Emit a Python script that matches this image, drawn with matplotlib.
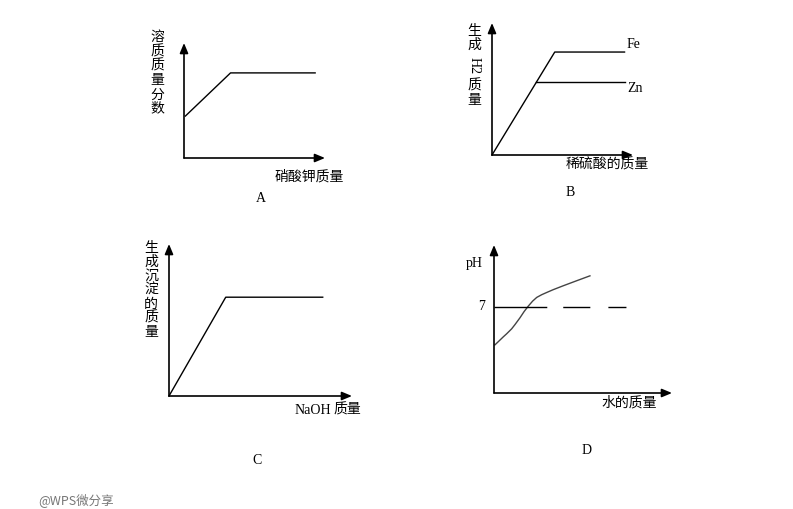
import matplotlib.pyplot as plt

plt.rcParams['font.family'] = ['Noto Sans CJK SC', 'DejaVu Sans']

W, H = 793, 509

# Panel A: solute mass fraction vs KNO3 mass
a_x = [0.1, 3.3, 9.3]
a_y = [3.65, 7.4, 7.4]

# Panel B: H2 mass vs dilute sulfuric acid mass
b_fe_x = [0.0, 4.45, 9.4]
b_fe_y = [0.0, 7.8, 7.8]
b_zn_x = [3.15, 9.4]
b_zn_y = [5.5, 5.5]

# Panel C: precipitate mass vs NaOH mass
c_x = [0.0, 3.1, 8.4]
c_y = [0.0, 6.5, 6.5]

# Panel D: pH vs water mass
d_x = [0.05, 0.24, 0.52, 0.71, 0.99, 1.18, 1.46, 1.69, 1.93, 2.17, 2.4, 2.68,
       2.96, 3.33, 3.9, 4.64, 5.39]
d_y = [3.9, 4.16, 4.55, 4.8, 5.2, 5.55, 6.1, 6.6, 7.05, 7.45, 7.75, 7.97,
       8.15, 8.38, 8.7, 9.1, 9.5]
d_ref = 7
d_ref_end = 7.4


def px(x, y):
    return x / W, 1 - y / H


def panel(x0, y0, x1, y1, ymax=10):
    # axes whose origin sits at (x0, y0) px and whose arrow tips reach (x1, y1) px
    ax = fig.add_axes([x0 / W, 1 - y0 / H, (x1 - x0) / W, (y0 - y1) / H])
    ax.set_xlim(0, 10)
    ax.set_ylim(0, ymax)
    ax.axis('off')
    arrow = dict(arrowstyle='-|>,head_length=0.6,head_width=0.25', color='black',
                 lw=1.2, shrinkA=0, shrinkB=0)
    ax.annotate('', xy=(1, 0), xytext=(0, 0), xycoords='axes fraction', arrowprops=arrow)
    ax.annotate('', xy=(0, 1), xytext=(0, 0), xycoords='axes fraction', arrowprops=arrow)
    return ax


def label(x, y, s, **kw):
    fig.text(*px(x, y), s, ha='center', va='center', fontsize=10, **kw)


serif = ['Liberation Serif', 'DejaVu Serif']

fig = plt.figure(figsize=(W / 100, H / 100), dpi=100)

# A
ax = panel(184, 158, 325, 43)
ax.plot(a_x, a_y, color='black', lw=1, clip_on=False)
label(157, 73, '溶\n质\n质\n量\n分\n数', linespacing=1.02)
label(309, 177, '硝酸钾质量')
label(261, 198, 'A', family=serif)

# B
ax = panel(492, 155, 633, 23)
ax.plot(b_fe_x, b_fe_y, color='black', lw=1, clip_on=False)
ax.plot(b_zn_x, b_zn_y, color='black', lw=1, clip_on=False)
label(474, 38, '生\n成', linespacing=1.0)
label(474, 66, 'H2', rotation=-90, family=serif)
label(474, 93, '质\n量', linespacing=1.0)
fig.text(*px(627, 45), 'Fe', ha='left', va='center', fontsize=10, family=serif)
fig.text(*px(627, 88), 'Zn', ha='left', va='center', fontsize=10, family=serif)
label(607, 165, '稀硫酸的质量')
label(570, 193, 'B', family=serif)

# C
ax = panel(169, 396, 352, 244)
ax.plot(c_x, c_y, color='black', lw=1, clip_on=False)
label(151, 290, '生\n成\n沉\n淀\n的\n质\n量', linespacing=1.0)
fig.text(*px(295, 410), 'NaOH', ha='left', va='center', fontsize=10, family=serif)
label(347, 410, '质量')
label(257, 460, 'C', family=serif)

# D
ax = panel(494, 393, 672, 245, ymax=12)
ax.plot(d_x, d_y, color='#444444', lw=1, clip_on=False)
ax.plot([0, d_ref_end], [d_ref, d_ref], color='black', lw=1,
        dashes=(38, 11.5, 19.5, 13, 13, 100), clip_on=False)
label(474, 264, 'pH', family=serif)
label(482, 307, '7', family=serif)
label(629, 403, '水的质量')
label(587, 450, 'D', family=serif)

# watermark
fig.text(*px(38, 500), '@WPS微分享', ha='left', va='center', fontsize=9, color='#777777')

fig.savefig('out.png', dpi=100)
